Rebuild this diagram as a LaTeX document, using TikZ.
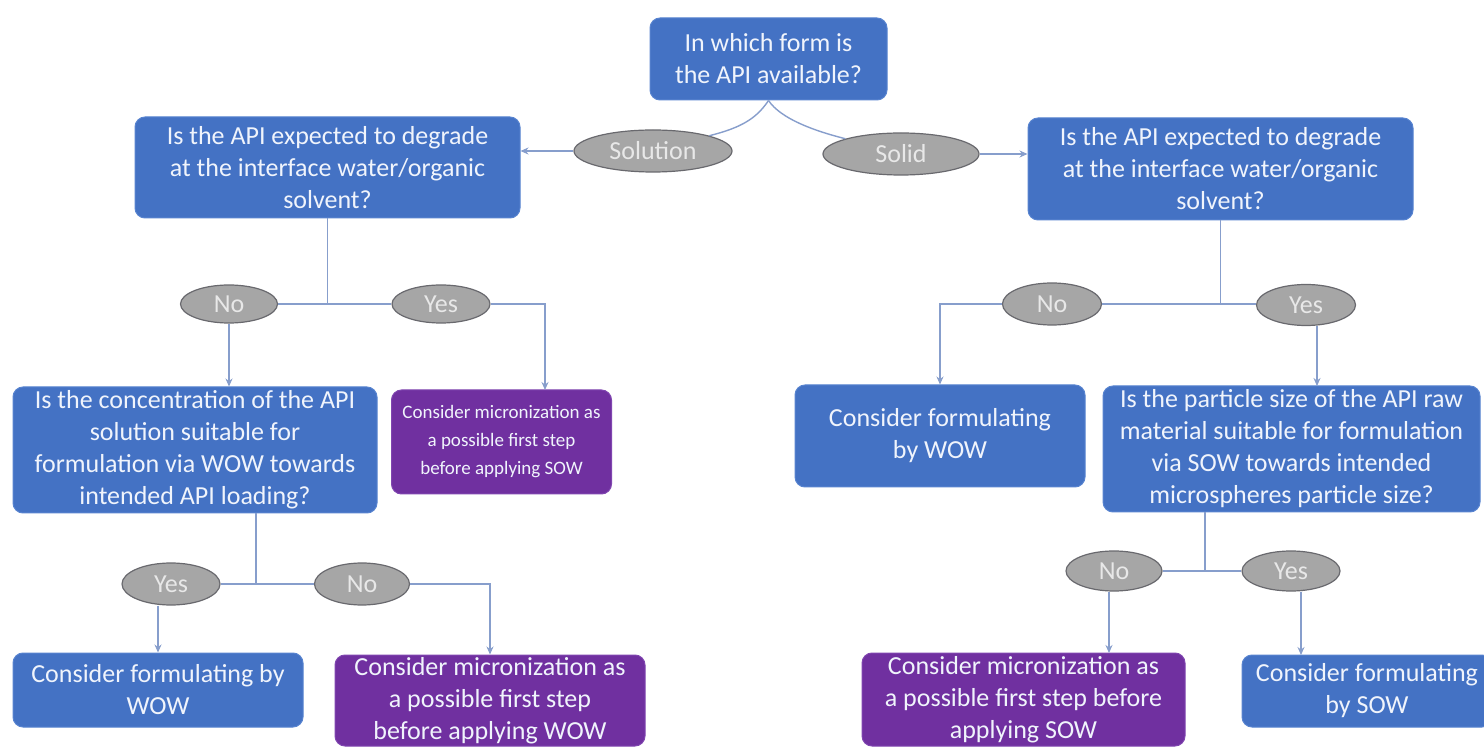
\documentclass[tikz,border=0pt]{standalone}
\usepackage{fontspec}
\setmainfont{Carlito}
\usetikzlibrary{shapes.geometric,arrows.meta,calc}
\definecolor{boxblue}{RGB}{68,114,196}
\definecolor{boxblueline}{RGB}{88,132,208}
\definecolor{boxpurple}{RGB}{112,48,160}
\definecolor{boxpurpleline}{RGB}{128,70,176}
\definecolor{boxtext}{RGB}{240,244,252}
\definecolor{labgray}{RGB}{166,166,166}
\definecolor{labline}{RGB}{105,105,110}
\definecolor{labtext}{RGB}{232,232,232}
\definecolor{linecol}{RGB}{135,158,204}
\begin{document}
\begin{tikzpicture}[x=0.5pt,y=-0.5pt,
  box/.style={rectangle, rounded corners=5pt, fill=boxblue, draw=boxblueline, line width=0.5pt,
    text=boxtext, align=center, inner sep=0pt, font=\fontsize{13}{16}\selectfont},
  pbox/.style={box, fill=boxpurple, draw=boxpurpleline},
  lab/.style={ellipse, fill=labgray, draw=labline, line width=0.6pt, text=labtext,
    inner sep=0pt, font=\fontsize{13}{16}\selectfont},
  conn/.style={draw=linecol, line width=0.7pt},
  arr/.style={conn, -{Stealth[length=4pt,width=3.5pt]}}]
\useasboundingbox (0,0) rectangle (1484,748);
\fill[white] (0,0) rectangle (1484,748);
\clip (0,0) rectangle (1484,748);

% boxes
\node[box, minimum width=118.5pt, minimum height=41pt] (top) at (768.5,59) {In which form is\\the API available?};
\node[box, minimum width=192.5pt, minimum height=50.5pt] (qL) at (327.5,167.5) {Is the API expected to degrade\\at the interface water/organic\\solvent?};
\node[box, minimum width=192.5pt, minimum height=51pt] (qR) at (1220.5,169) {Is the API expected to degrade\\at the interface water/organic\\solvent?};
\node[box, minimum width=182pt, minimum height=63pt] (q2) at (195,450) {Is the concentration of the API\\solution suitable for\\formulation via WOW towards\\intended API loading?};
\node[pbox, minimum width=110pt, minimum height=52pt, font=\fontsize{9.5}{14}\selectfont] (pL1) at (501.5,442) {Consider micronization as\\a possible first step\\before applying SOW};
\node[box, minimum width=145pt, minimum height=51pt] (cwR) at (940,436) {Consider formulating\\by WOW};
\node[box, minimum width=188.5pt, minimum height=63pt] (q3) at (1291.5,449) {Is the particle size of the API raw\\material suitable for formulation\\via SOW towards intended\\microspheres particle size?};
\node[box, minimum width=145pt, minimum height=37pt] (cwL) at (158,690) {Consider formulating by\\WOW};
\node[pbox, minimum width=155pt, minimum height=45.5pt] (pW2) at (490,700.5) {Consider micronization as\\a possible first step\\before applying WOW};
\node[pbox, minimum width=161.5pt, minimum height=46.5pt] (pR3) at (1023.5,699.5) {Consider micronization as\\a possible first step before\\applying SOW};
\node[box, minimum width=125pt, minimum height=36pt] (sow) at (1367,691) {Consider formulating\\by SOW};

% labels
\node[lab, minimum width=79pt, minimum height=21pt] (sol) at (653,151) {Solution};
\node[lab, minimum width=78pt, minimum height=21pt] (sld) at (901,154) {Solid};
\node[lab, minimum width=48.5pt, minimum height=19pt] (noL) at (229,304) {No};
\node[lab, minimum width=49pt, minimum height=19pt] (yesL) at (441,304) {Yes};
\node[lab, minimum width=49pt, minimum height=21pt] (yesL2) at (171,584) {Yes};
\node[lab, minimum width=47.5pt, minimum height=21pt] (noL2) at (362,584) {No};
\node[lab, minimum width=49.5pt, minimum height=21pt] (noR) at (1052,304) {No};
\node[lab, minimum width=49.5pt, minimum height=20.5pt] (yesR) at (1306,305) {Yes};
\node[lab, minimum width=48pt, minimum height=20pt] (noR2) at (1114,571) {No};
\node[lab, minimum width=49pt, minimum height=20pt] (yesR2) at (1291,571) {Yes};

% entry points
\coordinate (pL1in) at (545,390);
\coordinate (j2) at (256,584);
\coordinate (q3in) at (1317,386);
\coordinate (j4) at (1205,571);
\coordinate (pR3in) at (1109,653);
\coordinate (sowin) at (1301,655);

% connectors
\draw[conn] (top.south) .. controls +(-12,18) and +(32,-8) .. (sol.north east);
\draw[conn] (top.south) .. controls +(12,18) and +(-32,-8) .. (sld.north west);
\draw[arr] (sol.west) -- (sol.west -| qL.east);
\draw[arr] (sld.east) -- (sld.east -| qR.west);

\draw[conn] (qL.south) -- (qL.south |- noL.east);
\draw[conn] (noL.east) -- (yesL.west);
\draw[arr] (yesL.east) -| (pL1in);
\draw[arr] (noL.south) -- (noL.south |- q2.north);

\draw[conn] (q2.south -| j2) -- (j2);
\draw[conn] (yesL2.east) -- (noL2.west);
\draw[arr] (cwL.north |- yesL2.south) -- (cwL.north);
\draw[arr] (noL2.east) -| (pW2.north);

\draw[conn] (qR.south) -- (qR.south |- noR.east);
\draw[conn] (noR.east) -- (yesR.west |- noR.east);
\draw[arr] (noR.west) -| (cwR.north);
\draw[arr] (yesR.south -| q3in) -- (q3in);

\draw[conn] (q3.south -| j4) -- (j4);
\draw[conn] (noR2.east) -- (yesR2.west);
\draw[arr] (noR2.south -| pR3in) -- (pR3in);
\draw[arr] (yesR2.south -| sowin) -- (sowin);
\end{tikzpicture}
\end{document}
